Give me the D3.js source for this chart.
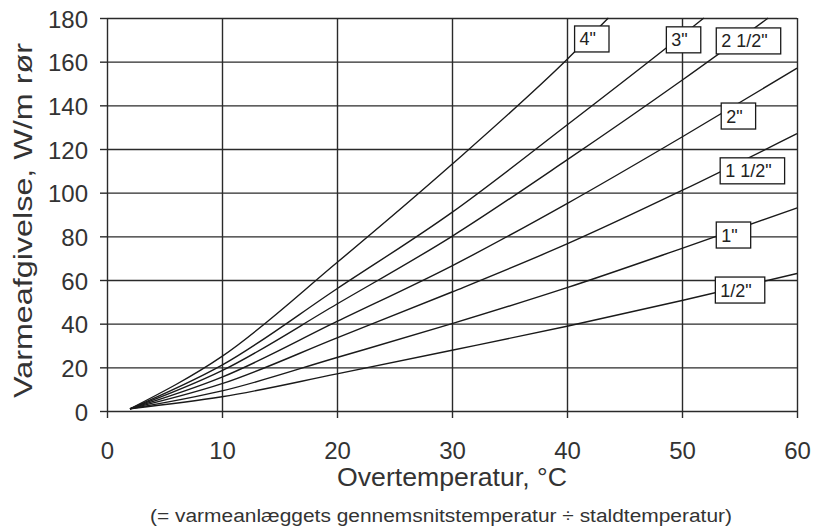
<!DOCTYPE html>
<html>
<head>
<meta charset="utf-8">
<script src="https://cdn.jsdelivr.net/npm/d3@7"></script>
<style>
  body { margin: 0; background: #fff; }
  svg { display: block; font-family: "Liberation Sans", Arial, sans-serif; }
  .grid line { stroke: #2a2a2a; stroke-width: 1.4; }
  .grid path { display: none; }
  .axis path { display: none; }
  .axis line { stroke: #2a2a2a; stroke-width: 1.4; }
  .axis text { fill: #333; font-size: 24px; }
  .pipe { fill: none; stroke: #1a1a1a; stroke-width: 1.4; }
  .tag rect { fill: #fff; stroke: #1a1a1a; stroke-width: 1.3; }
  .tag text { fill: #222; font-size: 18px; }
</style>
</head>
<body>
<div id="chart"></div>
<script>
// values (x = overtemperatur °C, y = W/m rør)
const xTicks = [0, 10, 20, 30, 40, 50, 60];
const yTicks = [0, 20, 40, 60, 80, 100, 120, 140, 160, 180];

const pipeNames = ['1/2"', '1"', '1 1/2"', '2"', '2 1/2"', '3"', '4"'];

const pipeHalf  = [[2, 1], [10, 6.5],  [20, 17],   [30, 27.8], [40, 38.8], [50, 50.6],  [60, 63]];
const pipeOne   = [[2, 1], [10, 9.2],  [20, 24.5], [30, 40],   [40, 56.5], [50, 74.5],  [60, 93]];
const pipeOneH  = [[2, 1], [10, 12.5], [20, 33.5], [30, 54.5], [40, 76.5], [50, 101],   [60, 127]];
const pipeTwo   = [[2, 1], [10, 15.5], [20, 41],   [30, 66.5], [40, 95],   [50, 125.5], [60, 157]];
const pipeTwoH  = [[2, 1], [10, 18.5], [20, 49],   [30, 80],   [40, 115],  [50, 151.5], [57.5, 180]];
const pipeThree = [[2, 1], [10, 21],   [20, 56],   [30, 91],   [40, 131],  [50, 172],   [51.9, 180]];
const pipeFour  = [[2, 1], [10, 25],   [20, 68],   [30, 113],  [40, 161],  [43.6, 180]];

// label boxes: left edge (x) and middle (y), in data units
const tagLeft = [52.9, 52.98, 53.32, 53.41, 52.98, 48.64, 40.66];
const tagMid  = [55.4, 80.6, 110, 135.1, 169.5, 170, 170.4];

(function() {
  const margin = { top: 18, right: 19, bottom: 120, left: 107 };
  const fullW = 816, fullH = 531;
  const W = fullW - margin.left - margin.right;
  const H = fullH - margin.top - margin.bottom;

  const svg = d3.select("#chart")
    .append("svg")
    .attr("width", fullW)
    .attr("height", fullH);

  const g = svg.append("g").attr("transform", `translate(${margin.left},${margin.top})`);

  const x = d3.scaleLinear().domain([0, 60]).range([0, W]);
  const y = d3.scaleLinear().domain([0, 180]).range([H, 0]);

  // grid
  g.append("g").attr("class", "grid")
    .call(d3.axisLeft(y).tickValues(yTicks).tickSize(-W).tickFormat(""));
  g.append("g").attr("class", "grid")
    .attr("transform", `translate(0,${H})`)
    .call(d3.axisBottom(x).tickValues(xTicks).tickSize(-H).tickFormat(""));

  // ticks + labels
  const yAxisG = g.append("g").attr("class", "axis")
    .call(d3.axisLeft(y).tickValues(yTicks).tickSize(7).tickPadding(12));
  yAxisG.selectAll("text").attr("dy", "0.38em");

  g.append("g").attr("class", "axis")
    .attr("transform", `translate(0,${H})`)
    .call(d3.axisBottom(x).tickValues(xTicks).tickSize(7).tickPadding(24));

  const series = [pipeHalf, pipeOne, pipeOneH, pipeTwo, pipeTwoH, pipeThree, pipeFour];

  const line = d3.line()
    .x(d => x(d[0]))
    .y(d => y(d[1]))
    .curve(d3.curveMonotoneX);

  g.selectAll(".pipe")
    .data(series)
    .enter()
    .append("path")
    .attr("class", "pipe")
    .attr("d", line);

  // boxed size labels
  const tags = g.selectAll(".tag")
    .data(pipeNames)
    .enter()
    .append("g")
    .attr("class", "tag")
    .attr("transform", (d, i) => `translate(${x(tagLeft[i])},${y(tagMid[i])})`);

  tags.append("rect");
  tags.append("text")
    .attr("x", 5)
    .attr("dy", "0.36em")
    .text(d => d);

  tags.each(function() {
    const t = d3.select(this);
    const w = t.select("text").node().getComputedTextLength();
    t.select("rect")
      .attr("x", 0)
      .attr("y", -13)
      .attr("width", w + 18)
      .attr("height", 26);
  });

  // axis titles
  g.append("text")
    .attr("text-anchor", "middle")
    .attr("x", W / 2)
    .attr("y", H + 75)
    .style("font-size", "25px")
    .style("fill", "#333")
    .attr("textLength", 230)
    .attr("lengthAdjust", "spacingAndGlyphs")
    .text("Overtemperatur, °C");

  g.append("text")
    .attr("text-anchor", "middle")
    .attr("x", W / 2 - 11)
    .attr("y", H + 111)
    .style("font-size", "18px")
    .style("fill", "#333")
    .attr("textLength", 582)
    .attr("lengthAdjust", "spacingAndGlyphs")
    .text("(= varmeanlæggets gennemsnitstemperatur ÷ staldtemperatur)");

  g.append("text")
    .attr("text-anchor", "middle")
    .attr("transform", `translate(${-75},${H / 2 + 6}) rotate(-90)`)
    .style("font-size", "25px")
    .style("fill", "#333")
    .attr("textLength", 355)
    .attr("lengthAdjust", "spacingAndGlyphs")
    .text("Varmeafgivelse, W/m rør");
})();
</script>
</body>
</html>
